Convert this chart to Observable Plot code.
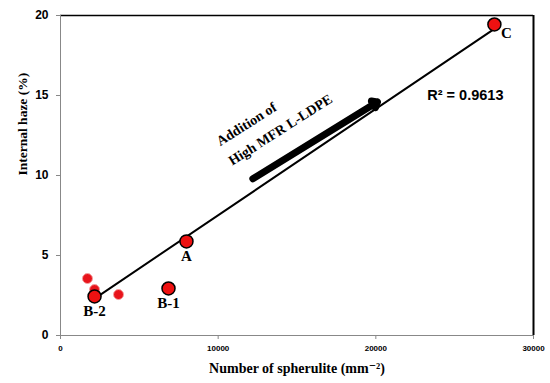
<!DOCTYPE html>
<html>
<head>
<meta charset="utf-8">
<script src="https://cdn.jsdelivr.net/npm/d3@7"></script>
<script src="https://cdn.jsdelivr.net/npm/@observablehq/plot@0.6"></script>
<style>
  html, body { margin: 0; padding: 0; background: #fff; }
  #chart svg { display: block; }
</style>
</head>
<body>
<div id="chart"></div>
<script>
// Labeled samples
const sampleNames = ["A", "B-1", "B-2", "C"];
const sampleX = [7990, 6850, 2160, 27520];
const sampleY = [5.88, 2.94, 2.44, 19.44];
// Extra unlabeled points
const extraX = [1710, 2160, 3680];
const extraY = [3.56, 2.87, 2.56];
// Trend line endpoints
const trendX = [2000, 27800];
const trendY = [2.2, 19.35];
// Annotation arrow
const arrowX1 = 12200, arrowY1 = 9.8, arrowX2 = 20100, arrowY2 = 14.6;
const arrowLines = ["Addition of", "High MFR L-LDPE"];
const arrowLineX = [11800, 13950];
const arrowLineY = [13.2, 12.85];
const r2Text = "R² = 0.9613";
// Axes
const xTicks = [0, 10000, 20000, 30000];
const yTicks = [0, 5, 10, 15, 20];
const xLabel = "Number of spherulite (mm⁻²)";
const yLabel = "Internal haze (%)";

const samples = sampleNames.map((n, i) => ({name: n, x: sampleX[i], y: sampleY[i]}));
const extras = extraX.map((x, i) => ({x, y: extraY[i]}));
const trend = trendX.map((x, i) => ({x, y: trendY[i]}));
const arrowLabels = arrowLines.map((t, i) => ({text: t, x: arrowLineX[i], y: arrowLineY[i]}));

const serif = "'Liberation Serif', 'DejaVu Serif', serif";
const sans = "'Liberation Sans', Arial, sans-serif";

const chart = Plot.plot({
  width: 550,
  height: 383,
  marginLeft: 60,
  marginRight: 17,
  marginTop: 15,
  marginBottom: 48,
  style: {fontFamily: sans, background: "#fff"},
  x: {domain: [0, 30000]},
  y: {domain: [0, 20]},
  marks: [
    Plot.ruleY([20], {stroke: "#000", strokeWidth: 1.5}),
    Plot.ruleX([30000], {stroke: "#000", strokeWidth: 2}),
    Plot.ruleX([0], {stroke: "#888", strokeWidth: 1}),
    Plot.ruleY([0], {stroke: "#888", strokeWidth: 1}),
    Plot.axisY({ticks: yTicks, tickSize: 4, tickPadding: 8, stroke: "#888", fontSize: 12, fontWeight: "bold", label: null, fill: "#000", tickFormat: d => String(d)}),
    Plot.axisX({ticks: xTicks, tickSize: 4, tickPadding: 6, stroke: "#888", fontSize: 8, fontWeight: "bold", label: null, fill: "#000", tickFormat: d => String(d)}),
    Plot.text([yLabel], {frameAnchor: "left", dx: -38, rotate: -90, fontSize: 13.5, fontWeight: "bold", fontFamily: serif, fill: "#000"}),
    Plot.text([xLabel], {frameAnchor: "bottom", dx: 0, dy: 37, fontSize: 14, fontWeight: "bold", fontFamily: serif, fill: "#000"}),
    Plot.line(trend, {x: "x", y: "y", stroke: "#000", strokeWidth: 2}),
    Plot.dot(extras, {x: "x", y: "y", r: 5, fill: "#e8141b", stroke: "#f5a0a0", strokeWidth: 1}),
    Plot.dot(samples, {x: "x", y: "y", r: 6.5, fill: "#ee1111", stroke: "#000", strokeWidth: 1.5}),
    Plot.text(samples.filter(d => d.name !== "C"), {x: "x", y: "y", text: "name", dy: 15, fontSize: 15, fontWeight: "bold", fontFamily: serif, fill: "#000"}),
    Plot.text(samples.filter(d => d.name === "C"), {x: "x", y: "y", text: "name", dy: 9, dx: 12, fontSize: 15, fontWeight: "bold", fontFamily: serif, fill: "#000"}),
    Plot.arrow([{x1: arrowX1, y1: arrowY1, x2: arrowX2, y2: arrowY2}], {x1: "x1", y1: "y1", x2: "x2", y2: "y2", stroke: "#000", strokeWidth: 7, headLength: 1.3, headAngle: 80}),
    Plot.text(arrowLabels, {x: "x", y: "y", text: "text", rotate: -32.5, fontSize: 14, fontWeight: "bold", fontFamily: serif, fill: "#000"}),
    Plot.text([r2Text], {x: [25680], y: [15], fontSize: 14.5, fontWeight: "bold", fontFamily: sans, fill: "#000"})
  ]
});
document.getElementById("chart").appendChild(chart);
</script>
</body>
</html>
